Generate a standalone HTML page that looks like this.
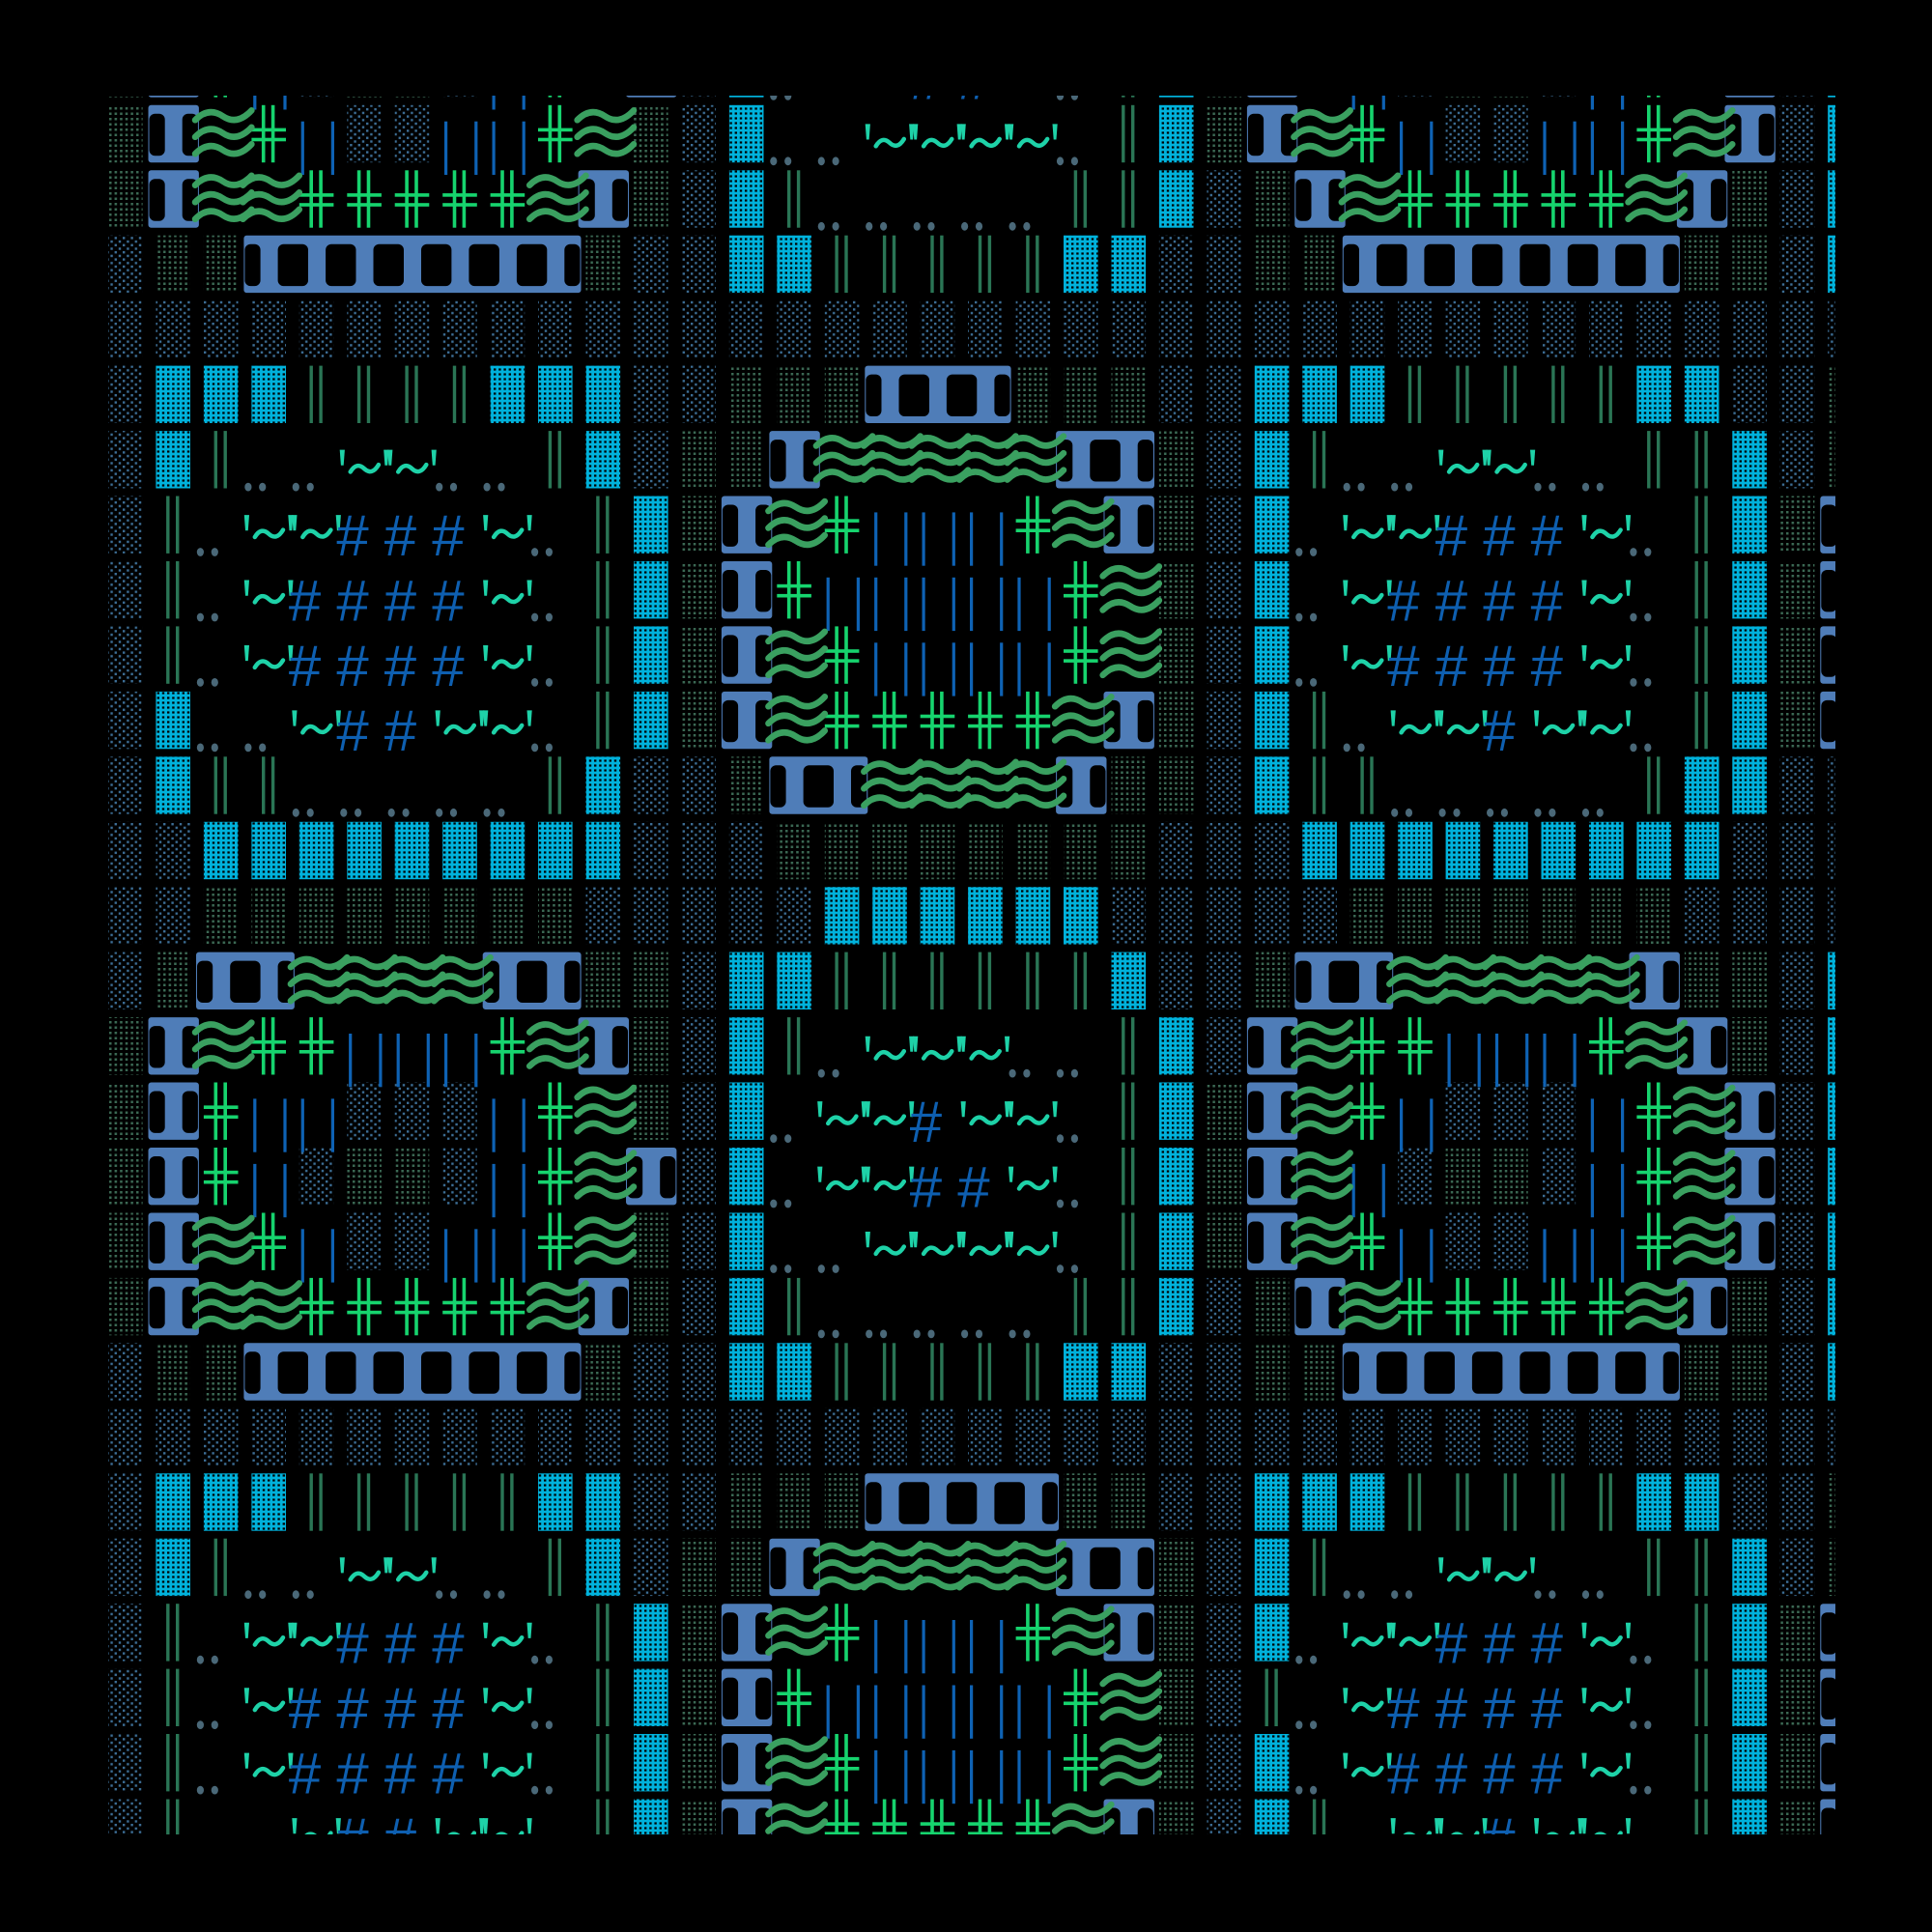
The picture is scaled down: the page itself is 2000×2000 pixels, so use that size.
<!DOCTYPE html>
<html><head><meta charset="utf-8">
<style>
html,body{margin:0;padding:0;background:#000;}
body{width:2000px;height:2000px;overflow:hidden;}
svg{display:block;}
</style></head>
<body>
<svg id="s" width="2000" height="2000" viewBox="0 0 2000 2000" xmlns="http://www.w3.org/2000/svg">
<defs>
<pattern id="pd" width="8.4" height="7.4" patternUnits="userSpaceOnUse">
<rect x="1" y="1" width="2.4" height="2.4" fill="#3d6f97"/>
<rect x="5.2" y="4.7" width="2.4" height="2.4" fill="#3d6f97"/>
</pattern>
<pattern id="pg" width="5.6" height="5.5" patternUnits="userSpaceOnUse">
<rect x="1" y="1" width="2.5" height="2.5" fill="#3c6a55"/>
</pattern>
<pattern id="pc" width="5.2" height="5" patternUnits="userSpaceOnUse">
<rect x="1.4" y="1.4" width="2.4" height="2.2" fill="#000"/>
</pattern>
<clipPath id="cl"><rect x="111" y="99" width="1789" height="1800"/></clipPath>
</defs>
<rect width="2000" height="2000" fill="#000"/>
<g id="g" clip-path="url(#cl)"></g>
</svg>
<script>
(function(){
var base=[
"gTwx|dd||xwgd"+"C..qqqq.kCg"+"Twx|dd||xwTdC",
"gTwwxxxxxwTgd"+"Ck.....kkCd"+"gTwxxxxxwTgdC",
"dggTTTTTTTgdd"+"CCkkkkkCCdd"+"ggTTTTTTTggdC",
"ddddddddddddd"+"ddddddddddd"+"ddddddddddddd",
"dCCCkkkkCCCdd"+"gggTTTgggdd"+"CCCkkkkkCCddg",
"dCk..qq..kCdg"+"gTwwwwwTTgd"+"Ck..qq..kkCdg",
"dk.qq###q.kCg"+"Twx|||xwTgd"+"C.qq###q.kCgT",
"dk.q####q.kCg"+"Tx|||||xwgd"+"C.q####q.kCgT",
"dk.q####q.kCg"+"Twx||||xwgd"+"C.q####q.kCgT",
"dC..q##qq.kCg"+"TwxxxxxwTgd"+"Ck.qq#qq.kCgT",
"dCkk.....kCdd"+"gTTwwwwTggd"+"Ckk.....kCCdd",
"ddCCCCCCCCCdd"+"dggggggggdd"+"dCCCCCCCCCddd",
"ddggggggggddd"+"ddCCCCCCddd"+"ddgggggggdddd",
"dgTTwwwwTTggd"+"CCkkkkkkCdd"+"gTTwwwwwTggdC",
"gTwxx|||xwTgd"+"Ck.qqq..kCd"+"Twxx|||xwTgdC",
"gTx||ddd|xwgd"+"C.qq#qq.kCg"+"Twx|ddd|xwTdC",
"gTx|dggd|xwTd"+"C.qq##q.kCg"+"Tw|dggd|xwTdC"
];
function rep(s,i,ch){return s.substring(0,i)+ch+s.substring(i+1);}
var R={};
R[-1]=base[16];
for(var i=0;i<17;i++)R[i]=base[i];
for(var i=0;i<10;i++)R[17+i]=base[i];
R[21]=rep(rep(R[21],8,'k'),19,'T');
R[24]=rep(R[24],24,'k');
R[26]=rep(R[26],1,'k');
var W=49.45,H=67.45,X0=112,Y0=108.8;
var bg='',fg='',tt='',up='';
function f(n){return n.toFixed(1);}
for(var r=-1;r<=26;r++){
 var s=R[r]; while(s.length<37)s+='d';
 var y=Y0+r*H, gh=0.88*H;
 for(var c=0;c<37;c++){
  var ch=s[c], x=X0+c*W;
  if(ch=='d'){bg+='<rect x="'+f(x)+'" y="'+f(y)+'" width="'+f(0.72*W)+'" height="'+f(gh)+'" fill="url(#pd)"/>';}
  else if(ch=='g'){bg+='<rect x="'+f(x)+'" y="'+f(y)+'" width="'+f(0.72*W)+'" height="'+f(gh)+'" fill="url(#pg)"/>';}
  else if(ch=='C'){bg+='<rect x="'+f(x)+'" y="'+f(y)+'" width="'+f(0.72*W)+'" height="'+f(gh)+'" fill="#00b2dc"/><rect x="'+f(x)+'" y="'+f(y)+'" width="'+f(0.72*W)+'" height="'+f(gh)+'" fill="url(#pc)"/>';}
  else if(ch=='k'){fg+='<rect x="'+f(x+0.25*W-1.7)+'" y="'+f(y)+'" width="3.4" height="'+f(gh)+'" fill="#2a7555"/><rect x="'+f(x+0.45*W-1.7)+'" y="'+f(y)+'" width="3.4" height="'+f(gh)+'" fill="#2a7555"/>';}
  else if(ch=='|'){fg+='<rect x="'+f(x+0.07*W-1.6)+'" y="'+f(y+0.25*H)+'" width="3.2" height="'+f(0.82*H)+'" fill="#0e62b4"/><rect x="'+f(x+0.70*W-1.6)+'" y="'+f(y+0.25*H)+'" width="3.2" height="'+f(0.82*H)+'" fill="#0e62b4"/>';}
  else if(ch=='x'){var col='#16d46e';
   fg+='<rect x="'+f(x+0.25*W-1.8)+'" y="'+f(y)+'" width="3.6" height="'+f(gh)+'" fill="'+col+'"/><rect x="'+f(x+0.45*W-1.8)+'" y="'+f(y)+'" width="3.6" height="'+f(gh)+'" fill="'+col+'"/>';
   fg+='<rect x="'+f(x)+'" y="'+f(y+0.38*H-1.8)+'" width="'+f(0.72*W)+'" height="3.6" fill="'+col+'"/><rect x="'+f(x)+'" y="'+f(y+0.53*H-1.8)+'" width="'+f(0.72*W)+'" height="3.6" fill="'+col+'"/>';}
  else if(ch=='.'){fg+='<ellipse cx="'+f(x-0.07*W)+'" cy="'+f(y+0.86*H)+'" rx="3.6" ry="4.4" fill="#4a6878"/><ellipse cx="'+f(x+0.23*W)+'" cy="'+f(y+0.86*H)+'" rx="3.6" ry="4.4" fill="#4a6878"/>';}
  else if(ch=='q'){var tc='#1ed2a8';
   [x-0.1*W,x+0.82*W].forEach(function(ax){fg+='<polygon points="'+f(ax-2.6)+','+f(y+0.29*H)+' '+f(ax+2.6)+','+f(y+0.29*H)+' '+f(ax+1.4)+','+f(y+0.53*H)+' '+f(ax-1.4)+','+f(y+0.53*H)+'" fill="'+tc+'"/>';});
   fg+='<path d="M'+f(x+0.07*W)+','+f(y+0.63*H)+' Q'+f(x+0.2*W)+','+f(y+0.47*H)+' '+f(x+0.36*W)+','+f(y+0.58*H)+' T'+f(x+0.66*W)+','+f(y+0.52*H)+'" stroke="'+tc+'" stroke-width="4.5" fill="none" stroke-linecap="round"/>';}
  else if(ch=='#'){up+='<text x="'+f(x-0.22*W)+'" y="'+f(y+0.91*H)+'" font-family="Liberation Sans, sans-serif" font-size="60" fill="#0e5fb0">#</text>';}
  else if(ch=='w'){var xs=x-0.2*W,L=1.2*W;
   for(var k=0;k<3;k++){var yy=y+(0.17+0.26*k)*H;
    up+='<path d="M'+f(xs+1)+','+f(yy+4)+' Q'+f(xs+0.25*L)+','+f(yy-10)+' '+f(xs+0.5*L)+','+f(yy)+' Q'+f(xs+0.75*L)+','+f(yy+10)+' '+f(xs+L)+','+f(yy-6)+'" stroke="#3aa060" stroke-width="6.5" fill="none" stroke-linecap="round"/>';}}
 }
 var c=0;
 while(c<37){
  if(s[c]=='T'){var a=c;while(c+1<37&&s[c+1]=='T')c++;var b=c;
   var rx1=X0+a*W-0.16*W, rx2=X0+b*W+0.9*W;
   tt+='<rect x="'+f(rx1)+'" y="'+f(y)+'" width="'+f(rx2-rx1)+'" height="'+f(gh)+'" rx="3" fill="#4f7db8"/>';
   var edges=[rx1+1];
   for(var k=a;k<=b;k++){var sc=X0+k*W+0.37*W;edges.push(sc-9);edges.push(sc+9);}
   edges.push(rx2-1);
   for(var k=0;k<edges.length;k+=2){var hx=edges[k],hw=edges[k+1]-edges[k];
    if(hw>1)tt+='<rect x="'+f(hx)+'" y="'+f(y+9)+'" width="'+f(hw)+'" height="'+f(gh-16)+'" rx="6" fill="#000"/>';}
  }
  c++;
 }
}
document.getElementById('g').innerHTML=bg+fg+tt+up;
})();
</script>
</body></html>
